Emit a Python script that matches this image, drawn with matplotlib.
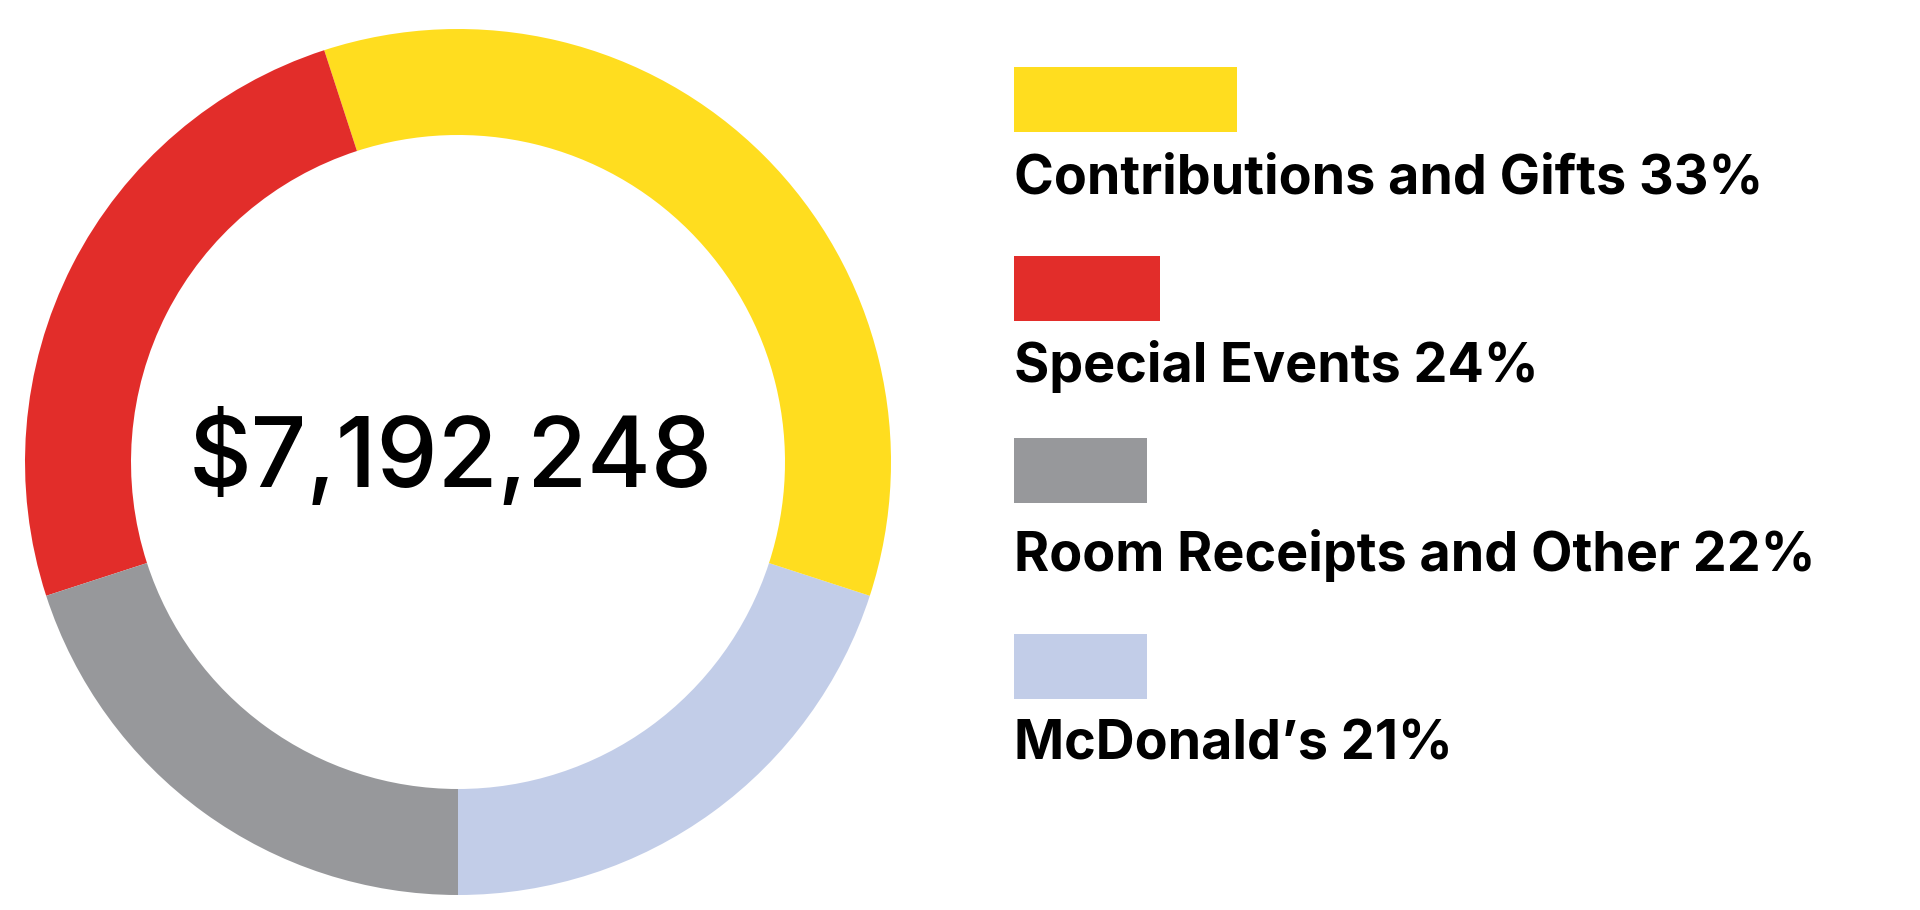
import matplotlib
matplotlib.use("Agg")
import matplotlib.pyplot as plt
from matplotlib.patches import Rectangle

# ---- data ----
categories = ["McDonald’s", "Contributions and Gifts", "Special Events", "Room Receipts and Other"]
slice_shares = [20, 35, 25, 20]          # angular share as drawn in the ring
label_pcts = [21, 33, 24, 22]            # percentages printed in the legend
colors = ["#C2CDE8", "#FFDD1F", "#E22D2A", "#97989B"]
total_label = "$7,192,248"

legend_order = [1, 2, 3, 0]              # legend listing order (indices into categories)

W, H = 1920, 910
fig = plt.figure(figsize=(W / 100, H / 100), dpi=100)
ax = fig.add_axes([0, 0, 1, 1])

cx, cy = 458, H - 462
r_out, r_in = 433, 327
ax.pie(slice_shares, colors=colors, radius=r_out, center=(cx, cy),
       startangle=-90, counterclock=True,
       wedgeprops=dict(width=r_out - r_in, linewidth=0))

ax.set_xlim(0, W)
ax.set_ylim(0, H)
ax.set_aspect("equal")
ax.axis("off")

ax.text(451, H - 487, total_label, ha="center", va="baseline",
        fontsize=70, fontweight="medium", family=["Inter", "DejaVu Sans"], color="black")

sw_x = 1014
sw_tops = [67, 256, 438, 634]
sw_h = 65
sw_w = [223, 146, 133, 133]
text_base = [193, 382, 571, 759]
for k, idx in enumerate(legend_order):
    ax.add_patch(Rectangle((sw_x, H - sw_tops[k] - sw_h), sw_w[k], sw_h,
                           facecolor=colors[idx], edgecolor="none"))
    ax.text(sw_x, H - text_base[k], f"{categories[idx]} {label_pcts[idx]}%",
            ha="left", va="baseline", fontsize=38.8, fontweight="bold",
            family=["Inter", "DejaVu Sans"], color="black")

fig.savefig("out.png", dpi=100, facecolor="white")
